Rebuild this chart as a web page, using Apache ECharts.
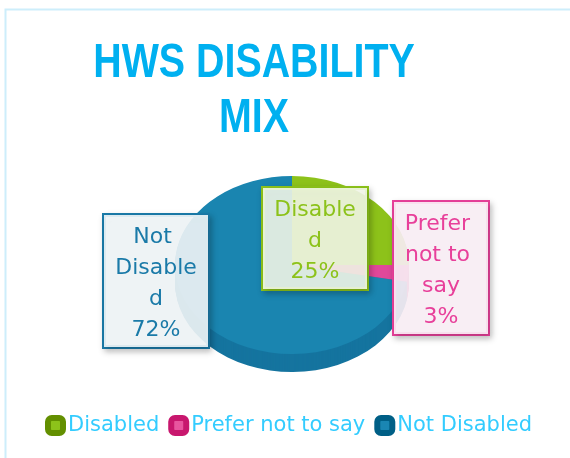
<!DOCTYPE html>
<html>
<head>
<meta charset="utf-8">
<title>HWS Disability Mix</title>
<script src="https://cdn.jsdelivr.net/npm/echarts@6/dist/echarts.min.js"></script>
<style>
    html, body { margin: 0; padding: 0; background: #fff; }
    #chart { width: 570px; height: 458px; }
</style>
</head>
<body>
<div id="chart"></div>
<script>
    // data
    var categories = ['Disabled', 'Prefer not to say', 'Not Disabled'];
    var values = [25, 3, 72];
    var titleText = 'HWS DISABILITY\nMIX';

    // colours
    var topColors = ['#8dc21a', '#e0489a', '#1a85b0'];
    var sideColors = ['#739f14', '#bb397e', '#15749f'];
    var iconColors = ['#8dc21a', '#e8559f', '#1a86b3'];
    var iconBorders = ['#638f00', '#c8176e', '#005f86'];
    var labelColors = ['#8cc21a', '#e8409a', '#1a7aa8'];
    var labelBg = ['rgba(246,250,236,0.88)', 'rgba(253,242,248,0.9)', 'rgba(242,247,250,0.9)'];

    // label boxes: centre x, top y, wrap width
    var labelPos = [[315, 188, 90], [441, 202, 80], [156, 215, 90]];

    // pie ellipse
    var cx = 292, cy = 265, rx = 117, ry = 89, depth = 18;
    var total = values.reduce(function (a, b) { return a + b; }, 0);

    function renderSlice(params, api) {
        var i = params.seriesIndex;
        var before = 0;
        for (var k = 0; k < i; k++) before += values[k];
        var v = api.value(0);
        var a0 = -Math.PI / 2 + 2 * Math.PI * before / total;
        var a1 = -Math.PI / 2 + 2 * Math.PI * (before + v) / total;
        var shape = {cx: 0, cy: 0, r: rx, startAngle: a0, endAngle: a1, clockwise: true};
        var children = [];

        // side of the disc
        for (var d = depth; d >= 1; d--) {
            children.push({
                type: 'sector', x: cx, y: cy + d, scaleY: ry / rx, z2: 1,
                shape: shape,
                style: {fill: sideColors[i]}
            });
        }
        // top face
        children.push({
            type: 'sector', x: cx, y: cy, scaleY: ry / rx, z2: 10,
            shape: shape,
            style: {fill: topColors[i]}
        });
        // label box
        var p = labelPos[i];
        children.push({
            type: 'text', z2: 100,
            style: {
                text: categories[i] + '\n' + Math.round(v / total * 100) + '%',
                x: p[0], y: p[1], width: p[2], overflow: 'break',
                align: 'center', verticalAlign: 'top',
                fontSize: 22, fontFamily: '"DejaVu Sans"', lineHeight: 31,
                fill: labelColors[i],
                backgroundColor: labelBg[i],
                borderColor: labelColors[i], borderWidth: 2,
                padding: [7, 7, 1, 7],
                shadowBlur: 6, shadowOffsetX: 2, shadowOffsetY: 3,
                shadowColor: 'rgba(0,0,0,0.22)'
            }
        });
        return {type: 'group', children: children};
    }

    var option = {
        animation: false,
        legend: {
            top: 410,
            left: 40,
            icon: 'roundRect',
            itemWidth: 15,
            itemHeight: 15,
            itemGap: 9,
            textStyle: {color: '#33ccff', fontSize: 21, fontFamily: '"DejaVu Sans"'},
            data: categories.map(function (c, i) {
                return {name: c, itemStyle: {color: iconColors[i], borderColor: iconBorders[i], borderWidth: 6}};
            })
        },
        graphic: [{
            type: 'rect', silent: true, z: -10,
            shape: {x: 5.5, y: 9.5, width: 600, height: 500},
            style: {fill: 'none', stroke: '#cdeefb', lineWidth: 2}
        }, {
            // narrow bold title
            type: 'text', silent: true,
            x: 254, y: 36, scaleX: 0.82,
            style: {
                text: titleText,
                align: 'center', verticalAlign: 'top',
                fill: '#00b0f0',
                fontSize: 48, fontWeight: 'bold',
                fontFamily: '"Liberation Sans", Arial, sans-serif',
                lineHeight: 55
            }
        }],
        series: categories.map(function (name, i) {
            return {
                type: 'custom',
                name: name,
                coordinateSystem: 'none',
                renderItem: renderSlice,
                itemStyle: {color: topColors[i]},
                data: [[values[i]]]
            };
        })
    };

    var myChart = echarts.init(document.getElementById('chart'));
    myChart.setOption(option);
</script>
</body>
</html>
